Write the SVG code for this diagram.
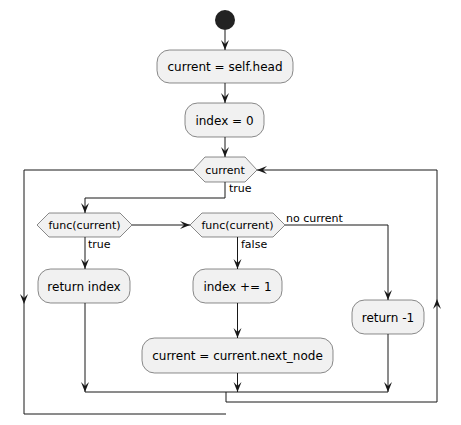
<svg xmlns="http://www.w3.org/2000/svg" width="461" height="425" viewBox="0 0 461 425">
  <style>
    .act { fill: #F1F1F1; stroke: #181818; stroke-width: 0.5; }
    .dia { fill: #F1F1F1; stroke: #181818; stroke-width: 0.5; }
    .flow { fill: none; stroke: #181818; stroke-width: 1; }
    .t12 { font-family: "DejaVu Sans", sans-serif; font-size: 12px; fill: #000; text-anchor: middle; }
    .t11 { font-family: "DejaVu Sans", sans-serif; font-size: 11px; fill: #000; text-anchor: middle; }
    .lbl { font-family: "DejaVu Sans", sans-serif; font-size: 11px; fill: #000; }
  </style>
  <defs>
    <marker id="arrow" markerUnits="userSpaceOnUse" markerWidth="12" markerHeight="10" refX="10" refY="4" orient="auto">
      <path d="M0,0 L10,4 L0,8 L4,4 Z" fill="#181818"/>
    </marker>
  </defs>
  <rect width="461" height="425" fill="#FFFFFF"/>

  <g id="connectors">
    <line class="flow" x1="225" y1="30" x2="225" y2="50" marker-end="url(#arrow)"/>
    <line class="flow" x1="225" y1="83" x2="225" y2="103" marker-end="url(#arrow)"/>
    <line class="flow" x1="225" y1="137" x2="225" y2="157" marker-end="url(#arrow)"/>
    <!-- true branch of the loop -->
    <polyline class="flow" points="225,182 225,198 85,198 85,213" marker-end="url(#arrow)"/>
    <line class="flow" x1="132" y1="225" x2="190" y2="225" marker-end="url(#arrow)"/>
    <line class="flow" x1="85" y1="237" x2="85" y2="269" marker-end="url(#arrow)"/>
    <line class="flow" x1="237.5" y1="237" x2="237.5" y2="269" marker-end="url(#arrow)"/>
    <polyline class="flow" points="285,225 388,225 388,300" marker-end="url(#arrow)"/>
    <line class="flow" x1="237.5" y1="303" x2="237.5" y2="338" marker-end="url(#arrow)"/>
    <!-- merge -->
    <line class="flow" x1="85" y1="303" x2="85" y2="392" marker-end="url(#arrow)"/>
    <line class="flow" x1="237.5" y1="373" x2="237.5" y2="392" marker-end="url(#arrow)"/>
    <line class="flow" x1="388" y1="334" x2="388" y2="392" marker-end="url(#arrow)"/>
    <line class="flow" x1="85" y1="392" x2="388" y2="392"/>
    <!-- back edge -->
    <polyline class="flow" points="226,392 226,402 437,402 437,299" marker-end="url(#arrow)"/>
    <polyline class="flow" points="437,299 437,170 257,170" marker-end="url(#arrow)"/>
    <!-- loop exit -->
    <polyline class="flow" points="193,170 24,170 24,304" marker-end="url(#arrow)"/>
    <polyline class="flow" points="24,304 24,414 226,414"/>
  </g>

  <g id="start">
    <circle cx="225" cy="20" r="10" fill="#222222"/>
  </g>
  <g id="node-head">
    <rect class="act" x="157" y="50" width="136" height="33" rx="12.5"/>
    <text class="t12" x="225" y="71">current = self.head</text>
  </g>
  <g id="node-index0">
    <rect class="act" x="185" y="103" width="79" height="34" rx="12.5"/>
    <text class="t12" x="224.5" y="125">index = 0</text>
  </g>
  <g id="while-current">
    <polygon class="dia" points="193,170 205,157 245,157 257,170 245,182 205,182"/>
    <text class="t11" x="225" y="174">current</text>
    <text class="lbl" x="229" y="192">true</text>
  </g>
  <g id="if-func-1">
    <polygon class="dia" points="37,225 49,213 120,213 132,225 120,237 49,237"/>
    <text class="t11" x="84.5" y="229">func(current)</text>
    <text class="lbl" x="88" y="248">true</text>
  </g>
  <g id="if-func-2">
    <polygon class="dia" points="190,225 202,213 273,213 285,225 273,237 202,237"/>
    <text class="t11" x="237.5" y="229">func(current)</text>
    <text class="lbl" x="241" y="248">false</text>
    <text class="lbl" x="286" y="222">no current</text>
  </g>
  <g id="node-return-index">
    <rect class="act" x="38" y="269" width="92" height="34" rx="12.5"/>
    <text class="t12" x="84" y="291">return index</text>
  </g>
  <g id="node-index-inc">
    <rect class="act" x="193" y="269" width="89" height="34" rx="12.5"/>
    <text class="t12" x="237.5" y="291">index += 1</text>
  </g>
  <g id="node-return-minus1">
    <rect class="act" x="352" y="300" width="72" height="34" rx="12.5"/>
    <text class="t12" x="388" y="322">return -1</text>
  </g>
  <g id="node-next">
    <rect class="act" x="142" y="338" width="191" height="35" rx="12.5"/>
    <text class="t12" x="237.5" y="360">current = current.next_node</text>
  </g>
</svg>
